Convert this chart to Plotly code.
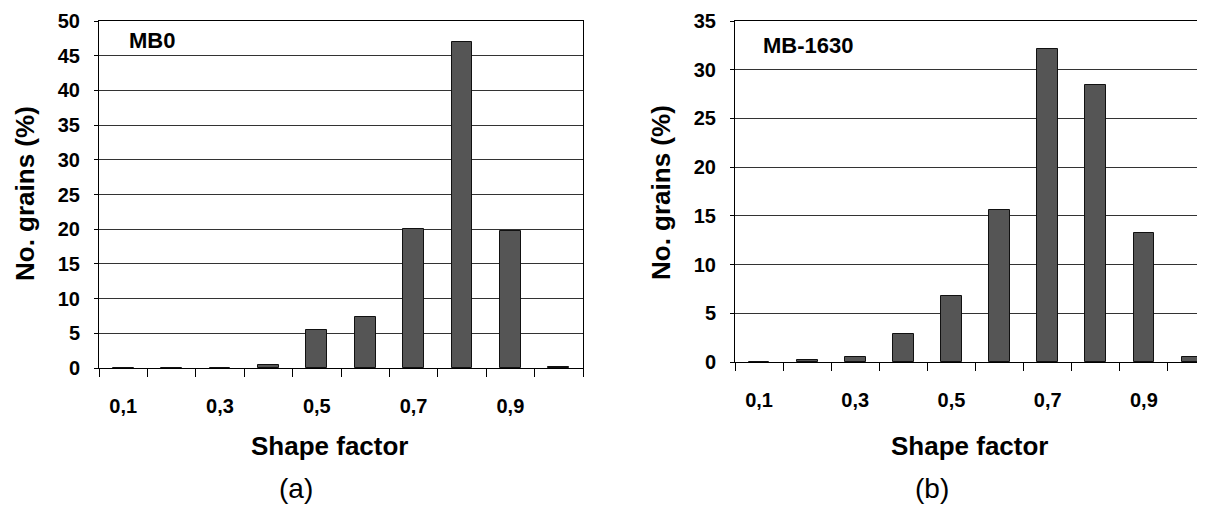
import plotly.graph_objects as go

# ---- data ----
shape_factor = [0.1, 0.2, 0.3, 0.4, 0.5, 0.6, 0.7, 0.8, 0.9, 1.0]
mb0 = [0, 0, 0, 0.5, 5.5, 7.4, 20.0, 47.0, 19.8, 0.1]
mb1630 = [0, 0.2, 0.5, 2.9, 6.8, 15.6, 32.1, 28.4, 13.2, 0.5]
tick_vals = [0.1, 0.3, 0.5, 0.7, 0.9]
tick_text = ["0,1", "0,3", "0,5", "0,7", "0,9"]
bin_edges = [0.05, 0.15, 0.25, 0.35, 0.45, 0.55, 0.65, 0.75, 0.85, 0.95, 1.05]

W, H = 1205, 506
OFF = 8  # page body margin offset
FONT = "Liberation Sans, Arial, sans-serif"

def px_x(p):
    return (p - OFF) / W

def px_y(p):
    return 1 - (p - OFF) / H

fig = go.Figure()
bar_style = dict(marker=dict(color="#555555", line=dict(color="#111", width=1)),
                 width=0.043, showlegend=False, hoverinfo="skip")
fig.add_trace(go.Bar(x=shape_factor, y=mb0, xaxis="x", yaxis="y", **bar_style))
fig.add_trace(go.Bar(x=shape_factor, y=mb1630, xaxis="x2", yaxis="y2", **bar_style))

def xaxis_cfg(domain, rng, mirror):
    return dict(domain=domain, range=rng, tickmode="array", tickvals=tick_vals,
                ticktext=tick_text, ticks="", showgrid=False, zeroline=False,
                automargin=False,
                showline=True, linecolor="black", linewidth=1, mirror=mirror,
                tickfont=dict(family=FONT, size=20, color="black", weight="bold"),
                ticklabelstandoff=20,
                minor=dict(tickmode="array", tickvals=bin_edges, ticks="outside",
                           ticklen=8, tickcolor="black", tickwidth=1, showgrid=False))

def yaxis_cfg(domain, rng, dtick, anchor, mirror):
    return dict(domain=domain, range=rng, dtick=dtick, anchor=anchor,
                automargin=False,
                showgrid=True, gridcolor="#333333", gridwidth=1, zeroline=False,
                showline=True, linecolor="black", linewidth=1, mirror=mirror,
                ticks="outside", ticklen=4, tickcolor="black",
                ticklabelstandoff=10,
                tickfont=dict(family=FONT, size=20, color="black", weight="bold"))

fig.update_layout(
    template="none",
    width=W, height=H, margin=dict(l=0, r=0, t=0, b=0, pad=0, autoexpand=False),
    paper_bgcolor="white", plot_bgcolor="white", bargap=0,
    xaxis=dict(anchor="y", **xaxis_cfg([px_x(99), px_x(583)], [0.05, 1.05], True)),
    yaxis=yaxis_cfg([px_y(368), px_y(21)], [0, 50], 5, "x", True),
    xaxis2=dict(anchor="y2", **xaxis_cfg([px_x(735), px_x(1205)], [0.05, 1.027], True)),
    yaxis2=yaxis_cfg([px_y(362), px_y(21)], [0, 35], 5, "x2", False),
)

def ann(text, x, y, size, bold=True, angle=0, xanchor="center"):
    fig.add_annotation(text=text, xref="paper", yref="paper", x=px_x(x), y=px_y(y),
                       xanchor=xanchor, yanchor="middle", showarrow=False, textangle=angle,
                       font=dict(family=FONT, size=size, color="black",
                                 weight="bold" if bold else "normal"))

ann("MB0", 127, 41, 22, xanchor="left")
ann("MB-1630", 761, 45, 22, xanchor="left")
ann("No. grains (%)", 25, 194, 26, angle=-90)
ann("No. grains (%)", 661, 193, 26, angle=-90)
ann("Shape factor", 330, 446, 26)
ann("Shape factor", 970, 446, 26)
ann("(a)", 296, 488, 28, bold=False)
ann("(b)", 932, 488, 28, bold=False)

fig.write_html("out.html")
